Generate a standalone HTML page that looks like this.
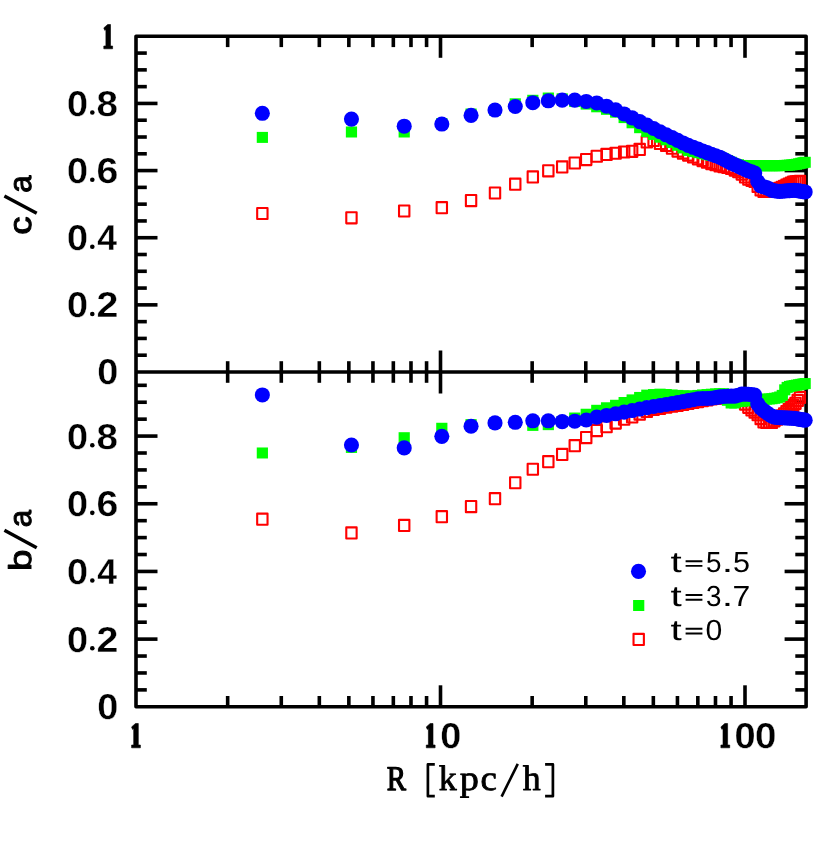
<!DOCTYPE html>
<html lang="en">
<head>
<meta charset="utf-8">
<title>c/a and b/a versus R</title>
<style>
html,body{margin:0;padding:0;background:#fff;}
body{width:830px;height:841px;overflow:hidden;font-family:"Liberation Sans",sans-serif;}
svg{display:block;will-change:transform;}
svg text{text-rendering:geometricPrecision;}
</style>
</head>
<body>
<svg width="830" height="841" viewBox="0 0 830 841">
<rect width="830" height="841" fill="#fff"/>
<g stroke="#000" stroke-width="3.6" fill="none" stroke-linecap="butt">
<rect x="136.0" y="36.3" width="670.1" height="670.5" stroke-linejoin="round"/>
<line x1="136.0" y1="372.0" x2="806.1" y2="372.0"/>
</g>
<g stroke="#000" stroke-width="3.6" stroke-linecap="butt">
<line x1="227.66" y1="36.3" x2="227.66" y2="47.099999999999994"/>
<line x1="227.66" y1="361.2" x2="227.66" y2="382.8"/>
<line x1="227.66" y1="696.0" x2="227.66" y2="706.8"/>
<line x1="281.28" y1="36.3" x2="281.28" y2="47.099999999999994"/>
<line x1="281.28" y1="361.2" x2="281.28" y2="382.8"/>
<line x1="281.28" y1="696.0" x2="281.28" y2="706.8"/>
<line x1="319.33" y1="36.3" x2="319.33" y2="47.099999999999994"/>
<line x1="319.33" y1="361.2" x2="319.33" y2="382.8"/>
<line x1="319.33" y1="696.0" x2="319.33" y2="706.8"/>
<line x1="348.84" y1="36.3" x2="348.84" y2="47.099999999999994"/>
<line x1="348.84" y1="361.2" x2="348.84" y2="382.8"/>
<line x1="348.84" y1="696.0" x2="348.84" y2="706.8"/>
<line x1="372.95" y1="36.3" x2="372.95" y2="47.099999999999994"/>
<line x1="372.95" y1="361.2" x2="372.95" y2="382.8"/>
<line x1="372.95" y1="696.0" x2="372.95" y2="706.8"/>
<line x1="393.33" y1="36.3" x2="393.33" y2="47.099999999999994"/>
<line x1="393.33" y1="361.2" x2="393.33" y2="382.8"/>
<line x1="393.33" y1="696.0" x2="393.33" y2="706.8"/>
<line x1="410.99" y1="36.3" x2="410.99" y2="47.099999999999994"/>
<line x1="410.99" y1="361.2" x2="410.99" y2="382.8"/>
<line x1="410.99" y1="696.0" x2="410.99" y2="706.8"/>
<line x1="426.57" y1="36.3" x2="426.57" y2="47.099999999999994"/>
<line x1="426.57" y1="361.2" x2="426.57" y2="382.8"/>
<line x1="426.57" y1="696.0" x2="426.57" y2="706.8"/>
<line x1="440.50" y1="36.3" x2="440.50" y2="57.8"/>
<line x1="440.50" y1="350.5" x2="440.50" y2="393.5"/>
<line x1="440.50" y1="685.3" x2="440.50" y2="706.8"/>
<line x1="532.16" y1="36.3" x2="532.16" y2="47.099999999999994"/>
<line x1="532.16" y1="361.2" x2="532.16" y2="382.8"/>
<line x1="532.16" y1="696.0" x2="532.16" y2="706.8"/>
<line x1="585.78" y1="36.3" x2="585.78" y2="47.099999999999994"/>
<line x1="585.78" y1="361.2" x2="585.78" y2="382.8"/>
<line x1="585.78" y1="696.0" x2="585.78" y2="706.8"/>
<line x1="623.83" y1="36.3" x2="623.83" y2="47.099999999999994"/>
<line x1="623.83" y1="361.2" x2="623.83" y2="382.8"/>
<line x1="623.83" y1="696.0" x2="623.83" y2="706.8"/>
<line x1="653.34" y1="36.3" x2="653.34" y2="47.099999999999994"/>
<line x1="653.34" y1="361.2" x2="653.34" y2="382.8"/>
<line x1="653.34" y1="696.0" x2="653.34" y2="706.8"/>
<line x1="677.45" y1="36.3" x2="677.45" y2="47.099999999999994"/>
<line x1="677.45" y1="361.2" x2="677.45" y2="382.8"/>
<line x1="677.45" y1="696.0" x2="677.45" y2="706.8"/>
<line x1="697.83" y1="36.3" x2="697.83" y2="47.099999999999994"/>
<line x1="697.83" y1="361.2" x2="697.83" y2="382.8"/>
<line x1="697.83" y1="696.0" x2="697.83" y2="706.8"/>
<line x1="715.49" y1="36.3" x2="715.49" y2="47.099999999999994"/>
<line x1="715.49" y1="361.2" x2="715.49" y2="382.8"/>
<line x1="715.49" y1="696.0" x2="715.49" y2="706.8"/>
<line x1="731.07" y1="36.3" x2="731.07" y2="47.099999999999994"/>
<line x1="731.07" y1="361.2" x2="731.07" y2="382.8"/>
<line x1="731.07" y1="696.0" x2="731.07" y2="706.8"/>
<line x1="745.00" y1="36.3" x2="745.00" y2="57.8"/>
<line x1="745.00" y1="350.5" x2="745.00" y2="393.5"/>
<line x1="745.00" y1="685.3" x2="745.00" y2="706.8"/>
<line x1="136.0" y1="355.21" x2="146.8" y2="355.21"/>
<line x1="795.3000000000001" y1="355.21" x2="806.1" y2="355.21"/>
<line x1="136.0" y1="338.43" x2="146.8" y2="338.43"/>
<line x1="795.3000000000001" y1="338.43" x2="806.1" y2="338.43"/>
<line x1="136.0" y1="321.64" x2="146.8" y2="321.64"/>
<line x1="795.3000000000001" y1="321.64" x2="806.1" y2="321.64"/>
<line x1="136.0" y1="304.86" x2="157.5" y2="304.86"/>
<line x1="784.6" y1="304.86" x2="806.1" y2="304.86"/>
<line x1="136.0" y1="288.07" x2="146.8" y2="288.07"/>
<line x1="795.3000000000001" y1="288.07" x2="806.1" y2="288.07"/>
<line x1="136.0" y1="271.29" x2="146.8" y2="271.29"/>
<line x1="795.3000000000001" y1="271.29" x2="806.1" y2="271.29"/>
<line x1="136.0" y1="254.50" x2="146.8" y2="254.50"/>
<line x1="795.3000000000001" y1="254.50" x2="806.1" y2="254.50"/>
<line x1="136.0" y1="237.72" x2="157.5" y2="237.72"/>
<line x1="784.6" y1="237.72" x2="806.1" y2="237.72"/>
<line x1="136.0" y1="220.94" x2="146.8" y2="220.94"/>
<line x1="795.3000000000001" y1="220.94" x2="806.1" y2="220.94"/>
<line x1="136.0" y1="204.15" x2="146.8" y2="204.15"/>
<line x1="795.3000000000001" y1="204.15" x2="806.1" y2="204.15"/>
<line x1="136.0" y1="187.37" x2="146.8" y2="187.37"/>
<line x1="795.3000000000001" y1="187.37" x2="806.1" y2="187.37"/>
<line x1="136.0" y1="170.58" x2="157.5" y2="170.58"/>
<line x1="784.6" y1="170.58" x2="806.1" y2="170.58"/>
<line x1="136.0" y1="153.79" x2="146.8" y2="153.79"/>
<line x1="795.3000000000001" y1="153.79" x2="806.1" y2="153.79"/>
<line x1="136.0" y1="137.01" x2="146.8" y2="137.01"/>
<line x1="795.3000000000001" y1="137.01" x2="806.1" y2="137.01"/>
<line x1="136.0" y1="120.22" x2="146.8" y2="120.22"/>
<line x1="795.3000000000001" y1="120.22" x2="806.1" y2="120.22"/>
<line x1="136.0" y1="103.44" x2="157.5" y2="103.44"/>
<line x1="784.6" y1="103.44" x2="806.1" y2="103.44"/>
<line x1="136.0" y1="86.65" x2="146.8" y2="86.65"/>
<line x1="795.3000000000001" y1="86.65" x2="806.1" y2="86.65"/>
<line x1="136.0" y1="69.87" x2="146.8" y2="69.87"/>
<line x1="795.3000000000001" y1="69.87" x2="806.1" y2="69.87"/>
<line x1="136.0" y1="53.08" x2="146.8" y2="53.08"/>
<line x1="795.3000000000001" y1="53.08" x2="806.1" y2="53.08"/>
<line x1="136.0" y1="689.88" x2="146.8" y2="689.88"/>
<line x1="795.3000000000001" y1="689.88" x2="806.1" y2="689.88"/>
<line x1="136.0" y1="672.96" x2="146.8" y2="672.96"/>
<line x1="795.3000000000001" y1="672.96" x2="806.1" y2="672.96"/>
<line x1="136.0" y1="656.04" x2="146.8" y2="656.04"/>
<line x1="795.3000000000001" y1="656.04" x2="806.1" y2="656.04"/>
<line x1="136.0" y1="639.12" x2="157.5" y2="639.12"/>
<line x1="784.6" y1="639.12" x2="806.1" y2="639.12"/>
<line x1="136.0" y1="622.20" x2="146.8" y2="622.20"/>
<line x1="795.3000000000001" y1="622.20" x2="806.1" y2="622.20"/>
<line x1="136.0" y1="605.28" x2="146.8" y2="605.28"/>
<line x1="795.3000000000001" y1="605.28" x2="806.1" y2="605.28"/>
<line x1="136.0" y1="588.36" x2="146.8" y2="588.36"/>
<line x1="795.3000000000001" y1="588.36" x2="806.1" y2="588.36"/>
<line x1="136.0" y1="571.44" x2="157.5" y2="571.44"/>
<line x1="784.6" y1="571.44" x2="806.1" y2="571.44"/>
<line x1="136.0" y1="554.52" x2="146.8" y2="554.52"/>
<line x1="795.3000000000001" y1="554.52" x2="806.1" y2="554.52"/>
<line x1="136.0" y1="537.60" x2="146.8" y2="537.60"/>
<line x1="795.3000000000001" y1="537.60" x2="806.1" y2="537.60"/>
<line x1="136.0" y1="520.68" x2="146.8" y2="520.68"/>
<line x1="795.3000000000001" y1="520.68" x2="806.1" y2="520.68"/>
<line x1="136.0" y1="503.76" x2="157.5" y2="503.76"/>
<line x1="784.6" y1="503.76" x2="806.1" y2="503.76"/>
<line x1="136.0" y1="486.84" x2="146.8" y2="486.84"/>
<line x1="795.3000000000001" y1="486.84" x2="806.1" y2="486.84"/>
<line x1="136.0" y1="469.92" x2="146.8" y2="469.92"/>
<line x1="795.3000000000001" y1="469.92" x2="806.1" y2="469.92"/>
<line x1="136.0" y1="453.00" x2="146.8" y2="453.00"/>
<line x1="795.3000000000001" y1="453.00" x2="806.1" y2="453.00"/>
<line x1="136.0" y1="436.08" x2="157.5" y2="436.08"/>
<line x1="784.6" y1="436.08" x2="806.1" y2="436.08"/>
<line x1="136.0" y1="419.16" x2="146.8" y2="419.16"/>
<line x1="795.3000000000001" y1="419.16" x2="806.1" y2="419.16"/>
<line x1="136.0" y1="402.24" x2="146.8" y2="402.24"/>
<line x1="795.3000000000001" y1="402.24" x2="806.1" y2="402.24"/>
<line x1="136.0" y1="385.32" x2="146.8" y2="385.32"/>
<line x1="795.3000000000001" y1="385.32" x2="806.1" y2="385.32"/>
</g>
<g>
<rect x="257.18" y="207.95" width="10.35" height="11.1" fill="none" stroke="#f00" stroke-width="2.1" stroke-linejoin="round"/>
<rect x="346.28" y="212.23" width="10.35" height="11.1" fill="none" stroke="#f00" stroke-width="2.1" stroke-linejoin="round"/>
<rect x="399.03" y="205.45" width="10.35" height="11.1" fill="none" stroke="#f00" stroke-width="2.1" stroke-linejoin="round"/>
<rect x="436.64" y="202.10" width="10.35" height="11.1" fill="none" stroke="#f00" stroke-width="2.1" stroke-linejoin="round"/>
<rect x="465.89" y="195.06" width="10.35" height="11.1" fill="none" stroke="#f00" stroke-width="2.1" stroke-linejoin="round"/>
<rect x="489.82" y="187.46" width="10.35" height="11.1" fill="none" stroke="#f00" stroke-width="2.1" stroke-linejoin="round"/>
<rect x="510.08" y="178.63" width="10.35" height="11.1" fill="none" stroke="#f00" stroke-width="2.1" stroke-linejoin="round"/>
<rect x="527.65" y="171.40" width="10.35" height="11.1" fill="none" stroke="#f00" stroke-width="2.1" stroke-linejoin="round"/>
<rect x="543.15" y="165.29" width="10.35" height="11.1" fill="none" stroke="#f00" stroke-width="2.1" stroke-linejoin="round"/>
<rect x="557.03" y="161.35" width="10.35" height="11.1" fill="none" stroke="#f00" stroke-width="2.1" stroke-linejoin="round"/>
<rect x="569.58" y="157.47" width="10.35" height="11.1" fill="none" stroke="#f00" stroke-width="2.1" stroke-linejoin="round"/>
<rect x="581.05" y="154.01" width="10.35" height="11.1" fill="none" stroke="#f00" stroke-width="2.1" stroke-linejoin="round"/>
<rect x="591.60" y="150.70" width="10.35" height="11.1" fill="none" stroke="#f00" stroke-width="2.1" stroke-linejoin="round"/>
<rect x="601.37" y="148.91" width="10.35" height="11.1" fill="none" stroke="#f00" stroke-width="2.1" stroke-linejoin="round"/>
<rect x="610.47" y="147.70" width="10.35" height="11.1" fill="none" stroke="#f00" stroke-width="2.1" stroke-linejoin="round"/>
<rect x="618.98" y="146.44" width="10.35" height="11.1" fill="none" stroke="#f00" stroke-width="2.1" stroke-linejoin="round"/>
<rect x="626.98" y="145.74" width="10.35" height="11.1" fill="none" stroke="#f00" stroke-width="2.1" stroke-linejoin="round"/>
<rect x="634.52" y="143.85" width="10.35" height="11.1" fill="none" stroke="#f00" stroke-width="2.1" stroke-linejoin="round"/>
<rect x="641.66" y="136.34" width="10.35" height="11.1" fill="none" stroke="#f00" stroke-width="2.1" stroke-linejoin="round"/>
<rect x="648.43" y="134.85" width="10.35" height="11.1" fill="none" stroke="#f00" stroke-width="2.1" stroke-linejoin="round"/>
<rect x="654.87" y="137.86" width="10.35" height="11.1" fill="none" stroke="#f00" stroke-width="2.1" stroke-linejoin="round"/>
<rect x="661.01" y="139.94" width="10.35" height="11.1" fill="none" stroke="#f00" stroke-width="2.1" stroke-linejoin="round"/>
<rect x="666.87" y="142.58" width="10.35" height="11.1" fill="none" stroke="#f00" stroke-width="2.1" stroke-linejoin="round"/>
<rect x="672.49" y="145.48" width="10.35" height="11.1" fill="none" stroke="#f00" stroke-width="2.1" stroke-linejoin="round"/>
<rect x="677.88" y="147.53" width="10.35" height="11.1" fill="none" stroke="#f00" stroke-width="2.1" stroke-linejoin="round"/>
<rect x="683.06" y="149.51" width="10.35" height="11.1" fill="none" stroke="#f00" stroke-width="2.1" stroke-linejoin="round"/>
<rect x="688.04" y="151.41" width="10.35" height="11.1" fill="none" stroke="#f00" stroke-width="2.1" stroke-linejoin="round"/>
<rect x="692.85" y="153.24" width="10.35" height="11.1" fill="none" stroke="#f00" stroke-width="2.1" stroke-linejoin="round"/>
<rect x="697.48" y="155.01" width="10.35" height="11.1" fill="none" stroke="#f00" stroke-width="2.1" stroke-linejoin="round"/>
<rect x="701.96" y="156.72" width="10.35" height="11.1" fill="none" stroke="#f00" stroke-width="2.1" stroke-linejoin="round"/>
<rect x="706.29" y="158.03" width="10.35" height="11.1" fill="none" stroke="#f00" stroke-width="2.1" stroke-linejoin="round"/>
<rect x="710.48" y="159.21" width="10.35" height="11.1" fill="none" stroke="#f00" stroke-width="2.1" stroke-linejoin="round"/>
<rect x="714.55" y="160.29" width="10.35" height="11.1" fill="none" stroke="#f00" stroke-width="2.1" stroke-linejoin="round"/>
<rect x="718.49" y="161.08" width="10.35" height="11.1" fill="none" stroke="#f00" stroke-width="2.1" stroke-linejoin="round"/>
<rect x="722.32" y="161.85" width="10.35" height="11.1" fill="none" stroke="#f00" stroke-width="2.1" stroke-linejoin="round"/>
<rect x="726.04" y="162.88" width="10.35" height="11.1" fill="none" stroke="#f00" stroke-width="2.1" stroke-linejoin="round"/>
<rect x="729.66" y="164.48" width="10.35" height="11.1" fill="none" stroke="#f00" stroke-width="2.1" stroke-linejoin="round"/>
<rect x="733.18" y="166.16" width="10.35" height="11.1" fill="none" stroke="#f00" stroke-width="2.1" stroke-linejoin="round"/>
<rect x="736.61" y="168.51" width="10.35" height="11.1" fill="none" stroke="#f00" stroke-width="2.1" stroke-linejoin="round"/>
<rect x="739.96" y="171.42" width="10.35" height="11.1" fill="none" stroke="#f00" stroke-width="2.1" stroke-linejoin="round"/>
<rect x="743.22" y="173.58" width="10.35" height="11.1" fill="none" stroke="#f00" stroke-width="2.1" stroke-linejoin="round"/>
<rect x="746.40" y="174.77" width="10.35" height="11.1" fill="none" stroke="#f00" stroke-width="2.1" stroke-linejoin="round"/>
<rect x="749.51" y="175.95" width="10.35" height="11.1" fill="none" stroke="#f00" stroke-width="2.1" stroke-linejoin="round"/>
<rect x="752.55" y="180.78" width="10.35" height="11.1" fill="none" stroke="#f00" stroke-width="2.1" stroke-linejoin="round"/>
<rect x="755.52" y="184.34" width="10.35" height="11.1" fill="none" stroke="#f00" stroke-width="2.1" stroke-linejoin="round"/>
<rect x="758.42" y="185.95" width="10.35" height="11.1" fill="none" stroke="#f00" stroke-width="2.1" stroke-linejoin="round"/>
<rect x="761.26" y="185.95" width="10.35" height="11.1" fill="none" stroke="#f00" stroke-width="2.1" stroke-linejoin="round"/>
<rect x="764.05" y="185.95" width="10.35" height="11.1" fill="none" stroke="#f00" stroke-width="2.1" stroke-linejoin="round"/>
<rect x="766.69" y="185.95" width="10.35" height="11.1" fill="none" stroke="#f00" stroke-width="2.1" stroke-linejoin="round"/>
<rect x="769.26" y="184.90" width="10.35" height="11.1" fill="none" stroke="#f00" stroke-width="2.1" stroke-linejoin="round"/>
<rect x="771.77" y="183.86" width="10.35" height="11.1" fill="none" stroke="#f00" stroke-width="2.1" stroke-linejoin="round"/>
<rect x="774.23" y="182.83" width="10.35" height="11.1" fill="none" stroke="#f00" stroke-width="2.1" stroke-linejoin="round"/>
<rect x="776.65" y="181.77" width="10.35" height="11.1" fill="none" stroke="#f00" stroke-width="2.1" stroke-linejoin="round"/>
<rect x="779.02" y="180.70" width="10.35" height="11.1" fill="none" stroke="#f00" stroke-width="2.1" stroke-linejoin="round"/>
<rect x="781.35" y="179.65" width="10.35" height="11.1" fill="none" stroke="#f00" stroke-width="2.1" stroke-linejoin="round"/>
<rect x="783.63" y="178.53" width="10.35" height="11.1" fill="none" stroke="#f00" stroke-width="2.1" stroke-linejoin="round"/>
<rect x="785.88" y="177.43" width="10.35" height="11.1" fill="none" stroke="#f00" stroke-width="2.1" stroke-linejoin="round"/>
<rect x="788.08" y="176.43" width="10.35" height="11.1" fill="none" stroke="#f00" stroke-width="2.1" stroke-linejoin="round"/>
<rect x="790.31" y="176.20" width="10.35" height="11.1" fill="none" stroke="#f00" stroke-width="2.1" stroke-linejoin="round"/>
<rect x="792.53" y="175.98" width="10.35" height="11.1" fill="none" stroke="#f00" stroke-width="2.1" stroke-linejoin="round"/>
<rect x="794.72" y="175.76" width="10.35" height="11.1" fill="none" stroke="#f00" stroke-width="2.1" stroke-linejoin="round"/>
<rect x="256.76" y="131.90" width="11.2" height="11.0" fill="#0f0"/>
<rect x="345.86" y="126.50" width="11.2" height="11.0" fill="#0f0"/>
<rect x="398.61" y="126.50" width="11.2" height="11.0" fill="#0f0"/>
<rect x="436.22" y="118.03" width="11.2" height="11.0" fill="#0f0"/>
<rect x="465.46" y="108.51" width="11.2" height="11.0" fill="#0f0"/>
<rect x="489.40" y="104.93" width="11.2" height="11.0" fill="#0f0"/>
<rect x="509.66" y="98.29" width="11.2" height="11.0" fill="#0f0"/>
<rect x="527.22" y="94.78" width="11.2" height="11.0" fill="#0f0"/>
<rect x="542.73" y="92.51" width="11.2" height="11.0" fill="#0f0"/>
<rect x="556.60" y="93.30" width="11.2" height="11.0" fill="#0f0"/>
<rect x="569.16" y="96.06" width="11.2" height="11.0" fill="#0f0"/>
<rect x="580.62" y="98.61" width="11.2" height="11.0" fill="#0f0"/>
<rect x="591.17" y="101.30" width="11.2" height="11.0" fill="#0f0"/>
<rect x="600.95" y="103.83" width="11.2" height="11.0" fill="#0f0"/>
<rect x="610.04" y="106.69" width="11.2" height="11.0" fill="#0f0"/>
<rect x="618.56" y="112.10" width="11.2" height="11.0" fill="#0f0"/>
<rect x="626.56" y="117.29" width="11.2" height="11.0" fill="#0f0"/>
<rect x="634.10" y="122.19" width="11.2" height="11.0" fill="#0f0"/>
<rect x="641.23" y="126.06" width="11.2" height="11.0" fill="#0f0"/>
<rect x="648.00" y="128.94" width="11.2" height="11.0" fill="#0f0"/>
<rect x="654.44" y="131.69" width="11.2" height="11.0" fill="#0f0"/>
<rect x="660.58" y="134.30" width="11.2" height="11.0" fill="#0f0"/>
<rect x="666.45" y="137.01" width="11.2" height="11.0" fill="#0f0"/>
<rect x="672.07" y="139.79" width="11.2" height="11.0" fill="#0f0"/>
<rect x="677.46" y="142.45" width="11.2" height="11.0" fill="#0f0"/>
<rect x="682.64" y="144.95" width="11.2" height="11.0" fill="#0f0"/>
<rect x="687.62" y="146.07" width="11.2" height="11.0" fill="#0f0"/>
<rect x="692.42" y="147.15" width="11.2" height="11.0" fill="#0f0"/>
<rect x="697.06" y="148.20" width="11.2" height="11.0" fill="#0f0"/>
<rect x="701.53" y="149.20" width="11.2" height="11.0" fill="#0f0"/>
<rect x="705.86" y="150.01" width="11.2" height="11.0" fill="#0f0"/>
<rect x="710.06" y="150.74" width="11.2" height="11.0" fill="#0f0"/>
<rect x="714.12" y="151.45" width="11.2" height="11.0" fill="#0f0"/>
<rect x="718.06" y="153.21" width="11.2" height="11.0" fill="#0f0"/>
<rect x="721.89" y="155.00" width="11.2" height="11.0" fill="#0f0"/>
<rect x="725.61" y="156.73" width="11.2" height="11.0" fill="#0f0"/>
<rect x="729.23" y="158.42" width="11.2" height="11.0" fill="#0f0"/>
<rect x="732.76" y="159.21" width="11.2" height="11.0" fill="#0f0"/>
<rect x="736.19" y="159.94" width="11.2" height="11.0" fill="#0f0"/>
<rect x="739.53" y="160.20" width="11.2" height="11.0" fill="#0f0"/>
<rect x="742.79" y="160.20" width="11.2" height="11.0" fill="#0f0"/>
<rect x="745.98" y="160.20" width="11.2" height="11.0" fill="#0f0"/>
<rect x="749.09" y="160.20" width="11.2" height="11.0" fill="#0f0"/>
<rect x="752.12" y="160.20" width="11.2" height="11.0" fill="#0f0"/>
<rect x="755.09" y="160.20" width="11.2" height="11.0" fill="#0f0"/>
<rect x="758.00" y="160.20" width="11.2" height="11.0" fill="#0f0"/>
<rect x="760.84" y="160.20" width="11.2" height="11.0" fill="#0f0"/>
<rect x="763.62" y="160.20" width="11.2" height="11.0" fill="#0f0"/>
<rect x="766.35" y="160.20" width="11.2" height="11.0" fill="#0f0"/>
<rect x="769.01" y="160.20" width="11.2" height="11.0" fill="#0f0"/>
<rect x="771.63" y="160.20" width="11.2" height="11.0" fill="#0f0"/>
<rect x="774.20" y="160.20" width="11.2" height="11.0" fill="#0f0"/>
<rect x="776.71" y="160.06" width="11.2" height="11.0" fill="#0f0"/>
<rect x="779.18" y="159.91" width="11.2" height="11.0" fill="#0f0"/>
<rect x="781.61" y="159.77" width="11.2" height="11.0" fill="#0f0"/>
<rect x="783.99" y="159.62" width="11.2" height="11.0" fill="#0f0"/>
<rect x="786.33" y="159.35" width="11.2" height="11.0" fill="#0f0"/>
<rect x="788.63" y="159.06" width="11.2" height="11.0" fill="#0f0"/>
<rect x="790.89" y="158.77" width="11.2" height="11.0" fill="#0f0"/>
<rect x="793.11" y="158.27" width="11.2" height="11.0" fill="#0f0"/>
<rect x="795.29" y="157.73" width="11.2" height="11.0" fill="#0f0"/>
<rect x="797.44" y="157.25" width="11.2" height="11.0" fill="#0f0"/>
<rect x="799.56" y="156.78" width="11.2" height="11.0" fill="#0f0"/>
<circle cx="262.36" cy="113.30" r="7.55" fill="#00f"/>
<circle cx="351.46" cy="119.12" r="7.55" fill="#00f"/>
<circle cx="404.21" cy="126.20" r="7.55" fill="#00f"/>
<circle cx="441.82" cy="124.04" r="7.55" fill="#00f"/>
<circle cx="471.06" cy="115.41" r="7.55" fill="#00f"/>
<circle cx="495.00" cy="110.06" r="7.55" fill="#00f"/>
<circle cx="515.26" cy="106.49" r="7.55" fill="#00f"/>
<circle cx="532.82" cy="102.68" r="7.55" fill="#00f"/>
<circle cx="548.33" cy="100.79" r="7.55" fill="#00f"/>
<circle cx="562.20" cy="100.10" r="7.55" fill="#00f"/>
<circle cx="574.76" cy="100.13" r="7.55" fill="#00f"/>
<circle cx="586.22" cy="101.45" r="7.55" fill="#00f"/>
<circle cx="596.77" cy="102.95" r="7.55" fill="#00f"/>
<circle cx="606.55" cy="106.21" r="7.55" fill="#00f"/>
<circle cx="615.64" cy="109.76" r="7.55" fill="#00f"/>
<circle cx="624.16" cy="113.93" r="7.55" fill="#00f"/>
<circle cx="632.16" cy="117.88" r="7.55" fill="#00f"/>
<circle cx="639.70" cy="121.61" r="7.55" fill="#00f"/>
<circle cx="646.83" cy="125.13" r="7.55" fill="#00f"/>
<circle cx="653.60" cy="128.50" r="7.55" fill="#00f"/>
<circle cx="660.04" cy="131.72" r="7.55" fill="#00f"/>
<circle cx="666.18" cy="134.79" r="7.55" fill="#00f"/>
<circle cx="672.05" cy="137.66" r="7.55" fill="#00f"/>
<circle cx="677.67" cy="140.35" r="7.55" fill="#00f"/>
<circle cx="683.06" cy="142.93" r="7.55" fill="#00f"/>
<circle cx="688.24" cy="145.39" r="7.55" fill="#00f"/>
<circle cx="693.22" cy="147.31" r="7.55" fill="#00f"/>
<circle cx="698.02" cy="149.16" r="7.55" fill="#00f"/>
<circle cx="702.66" cy="150.94" r="7.55" fill="#00f"/>
<circle cx="707.13" cy="152.67" r="7.55" fill="#00f"/>
<circle cx="711.46" cy="154.24" r="7.55" fill="#00f"/>
<circle cx="715.66" cy="155.74" r="7.55" fill="#00f"/>
<circle cx="719.72" cy="157.20" r="7.55" fill="#00f"/>
<circle cx="723.66" cy="159.21" r="7.55" fill="#00f"/>
<circle cx="727.49" cy="161.20" r="7.55" fill="#00f"/>
<circle cx="731.21" cy="163.05" r="7.55" fill="#00f"/>
<circle cx="734.83" cy="164.68" r="7.55" fill="#00f"/>
<circle cx="738.36" cy="166.27" r="7.55" fill="#00f"/>
<circle cx="741.79" cy="167.82" r="7.55" fill="#00f"/>
<circle cx="745.13" cy="169.33" r="7.55" fill="#00f"/>
<circle cx="748.39" cy="170.80" r="7.55" fill="#00f"/>
<circle cx="751.58" cy="171.79" r="7.55" fill="#00f"/>
<circle cx="754.69" cy="172.99" r="7.55" fill="#00f"/>
<circle cx="757.72" cy="181.53" r="7.55" fill="#00f"/>
<circle cx="760.69" cy="185.79" r="7.55" fill="#00f"/>
<circle cx="763.60" cy="186.80" r="7.55" fill="#00f"/>
<circle cx="766.44" cy="187.62" r="7.55" fill="#00f"/>
<circle cx="769.22" cy="188.81" r="7.55" fill="#00f"/>
<circle cx="771.95" cy="190.31" r="7.55" fill="#00f"/>
<circle cx="774.61" cy="190.80" r="7.55" fill="#00f"/>
<circle cx="777.23" cy="191.28" r="7.55" fill="#00f"/>
<circle cx="779.80" cy="191.39" r="7.55" fill="#00f"/>
<circle cx="782.31" cy="191.19" r="7.55" fill="#00f"/>
<circle cx="784.78" cy="191.00" r="7.55" fill="#00f"/>
<circle cx="787.21" cy="190.81" r="7.55" fill="#00f"/>
<circle cx="789.59" cy="190.62" r="7.55" fill="#00f"/>
<circle cx="791.93" cy="190.44" r="7.55" fill="#00f"/>
<circle cx="794.23" cy="190.26" r="7.55" fill="#00f"/>
<circle cx="796.49" cy="190.45" r="7.55" fill="#00f"/>
<circle cx="798.71" cy="190.84" r="7.55" fill="#00f"/>
<circle cx="800.89" cy="191.21" r="7.55" fill="#00f"/>
<circle cx="803.04" cy="191.58" r="7.55" fill="#00f"/>
<circle cx="805.16" cy="191.94" r="7.55" fill="#00f"/>
</g>
<g>
<rect x="257.18" y="513.59" width="10.35" height="11.1" fill="none" stroke="#f00" stroke-width="2.1" stroke-linejoin="round"/>
<rect x="346.28" y="527.40" width="10.35" height="11.1" fill="none" stroke="#f00" stroke-width="2.1" stroke-linejoin="round"/>
<rect x="399.03" y="519.85" width="10.35" height="11.1" fill="none" stroke="#f00" stroke-width="2.1" stroke-linejoin="round"/>
<rect x="436.64" y="511.08" width="10.35" height="11.1" fill="none" stroke="#f00" stroke-width="2.1" stroke-linejoin="round"/>
<rect x="465.89" y="501.06" width="10.35" height="11.1" fill="none" stroke="#f00" stroke-width="2.1" stroke-linejoin="round"/>
<rect x="489.82" y="493.09" width="10.35" height="11.1" fill="none" stroke="#f00" stroke-width="2.1" stroke-linejoin="round"/>
<rect x="510.08" y="477.20" width="10.35" height="11.1" fill="none" stroke="#f00" stroke-width="2.1" stroke-linejoin="round"/>
<rect x="527.65" y="463.69" width="10.35" height="11.1" fill="none" stroke="#f00" stroke-width="2.1" stroke-linejoin="round"/>
<rect x="543.15" y="456.13" width="10.35" height="11.1" fill="none" stroke="#f00" stroke-width="2.1" stroke-linejoin="round"/>
<rect x="557.03" y="448.85" width="10.35" height="11.1" fill="none" stroke="#f00" stroke-width="2.1" stroke-linejoin="round"/>
<rect x="569.58" y="440.17" width="10.35" height="11.1" fill="none" stroke="#f00" stroke-width="2.1" stroke-linejoin="round"/>
<rect x="581.05" y="432.06" width="10.35" height="11.1" fill="none" stroke="#f00" stroke-width="2.1" stroke-linejoin="round"/>
<rect x="591.60" y="425.04" width="10.35" height="11.1" fill="none" stroke="#f00" stroke-width="2.1" stroke-linejoin="round"/>
<rect x="601.37" y="421.13" width="10.35" height="11.1" fill="none" stroke="#f00" stroke-width="2.1" stroke-linejoin="round"/>
<rect x="610.47" y="417.49" width="10.35" height="11.1" fill="none" stroke="#f00" stroke-width="2.1" stroke-linejoin="round"/>
<rect x="618.98" y="413.63" width="10.35" height="11.1" fill="none" stroke="#f00" stroke-width="2.1" stroke-linejoin="round"/>
<rect x="626.98" y="411.43" width="10.35" height="11.1" fill="none" stroke="#f00" stroke-width="2.1" stroke-linejoin="round"/>
<rect x="634.52" y="408.55" width="10.35" height="11.1" fill="none" stroke="#f00" stroke-width="2.1" stroke-linejoin="round"/>
<rect x="641.66" y="405.84" width="10.35" height="11.1" fill="none" stroke="#f00" stroke-width="2.1" stroke-linejoin="round"/>
<rect x="648.43" y="403.85" width="10.35" height="11.1" fill="none" stroke="#f00" stroke-width="2.1" stroke-linejoin="round"/>
<rect x="654.87" y="402.75" width="10.35" height="11.1" fill="none" stroke="#f00" stroke-width="2.1" stroke-linejoin="round"/>
<rect x="661.01" y="401.71" width="10.35" height="11.1" fill="none" stroke="#f00" stroke-width="2.1" stroke-linejoin="round"/>
<rect x="666.87" y="400.71" width="10.35" height="11.1" fill="none" stroke="#f00" stroke-width="2.1" stroke-linejoin="round"/>
<rect x="672.49" y="399.75" width="10.35" height="11.1" fill="none" stroke="#f00" stroke-width="2.1" stroke-linejoin="round"/>
<rect x="677.88" y="398.80" width="10.35" height="11.1" fill="none" stroke="#f00" stroke-width="2.1" stroke-linejoin="round"/>
<rect x="683.06" y="397.84" width="10.35" height="11.1" fill="none" stroke="#f00" stroke-width="2.1" stroke-linejoin="round"/>
<rect x="688.04" y="396.91" width="10.35" height="11.1" fill="none" stroke="#f00" stroke-width="2.1" stroke-linejoin="round"/>
<rect x="692.85" y="396.01" width="10.35" height="11.1" fill="none" stroke="#f00" stroke-width="2.1" stroke-linejoin="round"/>
<rect x="697.48" y="395.15" width="10.35" height="11.1" fill="none" stroke="#f00" stroke-width="2.1" stroke-linejoin="round"/>
<rect x="701.96" y="394.29" width="10.35" height="11.1" fill="none" stroke="#f00" stroke-width="2.1" stroke-linejoin="round"/>
<rect x="706.29" y="393.44" width="10.35" height="11.1" fill="none" stroke="#f00" stroke-width="2.1" stroke-linejoin="round"/>
<rect x="710.48" y="392.70" width="10.35" height="11.1" fill="none" stroke="#f00" stroke-width="2.1" stroke-linejoin="round"/>
<rect x="714.55" y="392.42" width="10.35" height="11.1" fill="none" stroke="#f00" stroke-width="2.1" stroke-linejoin="round"/>
<rect x="718.49" y="392.14" width="10.35" height="11.1" fill="none" stroke="#f00" stroke-width="2.1" stroke-linejoin="round"/>
<rect x="722.32" y="392.24" width="10.35" height="11.1" fill="none" stroke="#f00" stroke-width="2.1" stroke-linejoin="round"/>
<rect x="726.04" y="392.52" width="10.35" height="11.1" fill="none" stroke="#f00" stroke-width="2.1" stroke-linejoin="round"/>
<rect x="729.66" y="392.79" width="10.35" height="11.1" fill="none" stroke="#f00" stroke-width="2.1" stroke-linejoin="round"/>
<rect x="733.18" y="393.08" width="10.35" height="11.1" fill="none" stroke="#f00" stroke-width="2.1" stroke-linejoin="round"/>
<rect x="736.61" y="395.04" width="10.35" height="11.1" fill="none" stroke="#f00" stroke-width="2.1" stroke-linejoin="round"/>
<rect x="739.96" y="398.48" width="10.35" height="11.1" fill="none" stroke="#f00" stroke-width="2.1" stroke-linejoin="round"/>
<rect x="743.22" y="401.74" width="10.35" height="11.1" fill="none" stroke="#f00" stroke-width="2.1" stroke-linejoin="round"/>
<rect x="746.40" y="404.43" width="10.35" height="11.1" fill="none" stroke="#f00" stroke-width="2.1" stroke-linejoin="round"/>
<rect x="749.51" y="406.54" width="10.35" height="11.1" fill="none" stroke="#f00" stroke-width="2.1" stroke-linejoin="round"/>
<rect x="752.55" y="409.08" width="10.35" height="11.1" fill="none" stroke="#f00" stroke-width="2.1" stroke-linejoin="round"/>
<rect x="755.52" y="413.04" width="10.35" height="11.1" fill="none" stroke="#f00" stroke-width="2.1" stroke-linejoin="round"/>
<rect x="758.42" y="416.35" width="10.35" height="11.1" fill="none" stroke="#f00" stroke-width="2.1" stroke-linejoin="round"/>
<rect x="761.26" y="416.95" width="10.35" height="11.1" fill="none" stroke="#f00" stroke-width="2.1" stroke-linejoin="round"/>
<rect x="764.05" y="416.95" width="10.35" height="11.1" fill="none" stroke="#f00" stroke-width="2.1" stroke-linejoin="round"/>
<rect x="766.69" y="416.95" width="10.35" height="11.1" fill="none" stroke="#f00" stroke-width="2.1" stroke-linejoin="round"/>
<rect x="769.26" y="415.25" width="10.35" height="11.1" fill="none" stroke="#f00" stroke-width="2.1" stroke-linejoin="round"/>
<rect x="771.77" y="413.55" width="10.35" height="11.1" fill="none" stroke="#f00" stroke-width="2.1" stroke-linejoin="round"/>
<rect x="774.23" y="411.90" width="10.35" height="11.1" fill="none" stroke="#f00" stroke-width="2.1" stroke-linejoin="round"/>
<rect x="776.65" y="410.29" width="10.35" height="11.1" fill="none" stroke="#f00" stroke-width="2.1" stroke-linejoin="round"/>
<rect x="779.02" y="408.24" width="10.35" height="11.1" fill="none" stroke="#f00" stroke-width="2.1" stroke-linejoin="round"/>
<rect x="781.35" y="406.04" width="10.35" height="11.1" fill="none" stroke="#f00" stroke-width="2.1" stroke-linejoin="round"/>
<rect x="783.63" y="403.86" width="10.35" height="11.1" fill="none" stroke="#f00" stroke-width="2.1" stroke-linejoin="round"/>
<rect x="785.88" y="401.73" width="10.35" height="11.1" fill="none" stroke="#f00" stroke-width="2.1" stroke-linejoin="round"/>
<rect x="788.08" y="399.92" width="10.35" height="11.1" fill="none" stroke="#f00" stroke-width="2.1" stroke-linejoin="round"/>
<rect x="790.31" y="397.76" width="10.35" height="11.1" fill="none" stroke="#f00" stroke-width="2.1" stroke-linejoin="round"/>
<rect x="792.53" y="394.84" width="10.35" height="11.1" fill="none" stroke="#f00" stroke-width="2.1" stroke-linejoin="round"/>
<rect x="794.72" y="391.86" width="10.35" height="11.1" fill="none" stroke="#f00" stroke-width="2.1" stroke-linejoin="round"/>
<rect x="256.76" y="447.48" width="11.2" height="11.0" fill="#0f0"/>
<rect x="345.86" y="441.93" width="11.2" height="11.0" fill="#0f0"/>
<rect x="398.61" y="432.20" width="11.2" height="11.0" fill="#0f0"/>
<rect x="436.22" y="422.77" width="11.2" height="11.0" fill="#0f0"/>
<rect x="465.46" y="419.10" width="11.2" height="11.0" fill="#0f0"/>
<rect x="489.40" y="417.50" width="11.2" height="11.0" fill="#0f0"/>
<rect x="509.66" y="417.01" width="11.2" height="11.0" fill="#0f0"/>
<rect x="527.22" y="419.89" width="11.2" height="11.0" fill="#0f0"/>
<rect x="542.73" y="419.15" width="11.2" height="11.0" fill="#0f0"/>
<rect x="556.60" y="416.10" width="11.2" height="11.0" fill="#0f0"/>
<rect x="569.16" y="412.52" width="11.2" height="11.0" fill="#0f0"/>
<rect x="580.62" y="408.74" width="11.2" height="11.0" fill="#0f0"/>
<rect x="591.17" y="404.80" width="11.2" height="11.0" fill="#0f0"/>
<rect x="600.95" y="402.26" width="11.2" height="11.0" fill="#0f0"/>
<rect x="610.04" y="399.77" width="11.2" height="11.0" fill="#0f0"/>
<rect x="618.56" y="397.00" width="11.2" height="11.0" fill="#0f0"/>
<rect x="626.56" y="394.39" width="11.2" height="11.0" fill="#0f0"/>
<rect x="634.10" y="391.94" width="11.2" height="11.0" fill="#0f0"/>
<rect x="641.23" y="389.62" width="11.2" height="11.0" fill="#0f0"/>
<rect x="648.00" y="389.04" width="11.2" height="11.0" fill="#0f0"/>
<rect x="654.44" y="388.66" width="11.2" height="11.0" fill="#0f0"/>
<rect x="660.58" y="389.01" width="11.2" height="11.0" fill="#0f0"/>
<rect x="666.45" y="389.48" width="11.2" height="11.0" fill="#0f0"/>
<rect x="672.07" y="389.92" width="11.2" height="11.0" fill="#0f0"/>
<rect x="677.46" y="390.27" width="11.2" height="11.0" fill="#0f0"/>
<rect x="682.64" y="390.46" width="11.2" height="11.0" fill="#0f0"/>
<rect x="687.62" y="390.47" width="11.2" height="11.0" fill="#0f0"/>
<rect x="692.42" y="389.94" width="11.2" height="11.0" fill="#0f0"/>
<rect x="697.06" y="389.45" width="11.2" height="11.0" fill="#0f0"/>
<rect x="701.53" y="389.08" width="11.2" height="11.0" fill="#0f0"/>
<rect x="705.86" y="388.72" width="11.2" height="11.0" fill="#0f0"/>
<rect x="710.06" y="388.38" width="11.2" height="11.0" fill="#0f0"/>
<rect x="714.12" y="388.26" width="11.2" height="11.0" fill="#0f0"/>
<rect x="718.06" y="388.20" width="11.2" height="11.0" fill="#0f0"/>
<rect x="721.89" y="394.79" width="11.2" height="11.0" fill="#0f0"/>
<rect x="725.61" y="397.50" width="11.2" height="11.0" fill="#0f0"/>
<rect x="729.23" y="397.49" width="11.2" height="11.0" fill="#0f0"/>
<rect x="732.76" y="396.00" width="11.2" height="11.0" fill="#0f0"/>
<rect x="736.19" y="395.74" width="11.2" height="11.0" fill="#0f0"/>
<rect x="739.53" y="395.49" width="11.2" height="11.0" fill="#0f0"/>
<rect x="742.79" y="394.80" width="11.2" height="11.0" fill="#0f0"/>
<rect x="745.98" y="394.46" width="11.2" height="11.0" fill="#0f0"/>
<rect x="749.09" y="394.12" width="11.2" height="11.0" fill="#0f0"/>
<rect x="752.12" y="393.80" width="11.2" height="11.0" fill="#0f0"/>
<rect x="755.09" y="393.94" width="11.2" height="11.0" fill="#0f0"/>
<rect x="758.00" y="393.88" width="11.2" height="11.0" fill="#0f0"/>
<rect x="760.84" y="393.66" width="11.2" height="11.0" fill="#0f0"/>
<rect x="763.62" y="393.44" width="11.2" height="11.0" fill="#0f0"/>
<rect x="766.35" y="393.23" width="11.2" height="11.0" fill="#0f0"/>
<rect x="769.01" y="392.77" width="11.2" height="11.0" fill="#0f0"/>
<rect x="771.63" y="392.29" width="11.2" height="11.0" fill="#0f0"/>
<rect x="774.20" y="391.50" width="11.2" height="11.0" fill="#0f0"/>
<rect x="776.71" y="389.87" width="11.2" height="11.0" fill="#0f0"/>
<rect x="779.18" y="384.33" width="11.2" height="11.0" fill="#0f0"/>
<rect x="781.61" y="381.90" width="11.2" height="11.0" fill="#0f0"/>
<rect x="783.99" y="380.90" width="11.2" height="11.0" fill="#0f0"/>
<rect x="786.33" y="380.47" width="11.2" height="11.0" fill="#0f0"/>
<rect x="788.63" y="380.05" width="11.2" height="11.0" fill="#0f0"/>
<rect x="790.89" y="379.63" width="11.2" height="11.0" fill="#0f0"/>
<rect x="793.11" y="379.22" width="11.2" height="11.0" fill="#0f0"/>
<rect x="795.29" y="378.82" width="11.2" height="11.0" fill="#0f0"/>
<rect x="797.44" y="378.44" width="11.2" height="11.0" fill="#0f0"/>
<rect x="799.56" y="378.06" width="11.2" height="11.0" fill="#0f0"/>
<circle cx="262.36" cy="394.95" r="7.55" fill="#00f"/>
<circle cx="351.46" cy="445.02" r="7.55" fill="#00f"/>
<circle cx="404.21" cy="447.90" r="7.55" fill="#00f"/>
<circle cx="441.82" cy="436.33" r="7.55" fill="#00f"/>
<circle cx="471.06" cy="426.21" r="7.55" fill="#00f"/>
<circle cx="495.00" cy="422.89" r="7.55" fill="#00f"/>
<circle cx="515.26" cy="422.29" r="7.55" fill="#00f"/>
<circle cx="532.82" cy="420.80" r="7.55" fill="#00f"/>
<circle cx="548.33" cy="420.81" r="7.55" fill="#00f"/>
<circle cx="562.20" cy="421.60" r="7.55" fill="#00f"/>
<circle cx="574.76" cy="421.18" r="7.55" fill="#00f"/>
<circle cx="586.22" cy="419.98" r="7.55" fill="#00f"/>
<circle cx="596.77" cy="417.16" r="7.55" fill="#00f"/>
<circle cx="606.55" cy="415.45" r="7.55" fill="#00f"/>
<circle cx="615.64" cy="413.81" r="7.55" fill="#00f"/>
<circle cx="624.16" cy="412.13" r="7.55" fill="#00f"/>
<circle cx="632.16" cy="410.54" r="7.55" fill="#00f"/>
<circle cx="639.70" cy="409.05" r="7.55" fill="#00f"/>
<circle cx="646.83" cy="407.63" r="7.55" fill="#00f"/>
<circle cx="653.60" cy="406.50" r="7.55" fill="#00f"/>
<circle cx="660.04" cy="405.45" r="7.55" fill="#00f"/>
<circle cx="666.18" cy="404.45" r="7.55" fill="#00f"/>
<circle cx="672.05" cy="403.49" r="7.55" fill="#00f"/>
<circle cx="677.67" cy="402.58" r="7.55" fill="#00f"/>
<circle cx="683.06" cy="401.64" r="7.55" fill="#00f"/>
<circle cx="688.24" cy="400.64" r="7.55" fill="#00f"/>
<circle cx="693.22" cy="399.68" r="7.55" fill="#00f"/>
<circle cx="698.02" cy="398.75" r="7.55" fill="#00f"/>
<circle cx="702.66" cy="398.50" r="7.55" fill="#00f"/>
<circle cx="707.13" cy="398.50" r="7.55" fill="#00f"/>
<circle cx="711.46" cy="398.26" r="7.55" fill="#00f"/>
<circle cx="715.66" cy="397.57" r="7.55" fill="#00f"/>
<circle cx="719.72" cy="396.90" r="7.55" fill="#00f"/>
<circle cx="723.66" cy="396.45" r="7.55" fill="#00f"/>
<circle cx="727.49" cy="396.25" r="7.55" fill="#00f"/>
<circle cx="731.21" cy="396.17" r="7.55" fill="#00f"/>
<circle cx="734.83" cy="396.09" r="7.55" fill="#00f"/>
<circle cx="738.36" cy="395.18" r="7.55" fill="#00f"/>
<circle cx="741.79" cy="394.10" r="7.55" fill="#00f"/>
<circle cx="745.13" cy="394.15" r="7.55" fill="#00f"/>
<circle cx="748.39" cy="394.20" r="7.55" fill="#00f"/>
<circle cx="751.58" cy="394.60" r="7.55" fill="#00f"/>
<circle cx="754.69" cy="395.00" r="7.55" fill="#00f"/>
<circle cx="757.72" cy="403.83" r="7.55" fill="#00f"/>
<circle cx="760.69" cy="407.99" r="7.55" fill="#00f"/>
<circle cx="763.60" cy="410.50" r="7.55" fill="#00f"/>
<circle cx="766.44" cy="412.53" r="7.55" fill="#00f"/>
<circle cx="769.22" cy="414.51" r="7.55" fill="#00f"/>
<circle cx="771.95" cy="416.22" r="7.55" fill="#00f"/>
<circle cx="774.61" cy="417.10" r="7.55" fill="#00f"/>
<circle cx="777.23" cy="417.50" r="7.55" fill="#00f"/>
<circle cx="779.80" cy="417.64" r="7.55" fill="#00f"/>
<circle cx="782.31" cy="417.77" r="7.55" fill="#00f"/>
<circle cx="784.78" cy="417.90" r="7.55" fill="#00f"/>
<circle cx="787.21" cy="418.02" r="7.55" fill="#00f"/>
<circle cx="789.59" cy="418.12" r="7.55" fill="#00f"/>
<circle cx="791.93" cy="418.21" r="7.55" fill="#00f"/>
<circle cx="794.23" cy="418.34" r="7.55" fill="#00f"/>
<circle cx="796.49" cy="418.75" r="7.55" fill="#00f"/>
<circle cx="798.71" cy="419.15" r="7.55" fill="#00f"/>
<circle cx="800.89" cy="419.54" r="7.55" fill="#00f"/>
<circle cx="803.04" cy="419.86" r="7.55" fill="#00f"/>
<circle cx="805.16" cy="420.15" r="7.55" fill="#00f"/>
</g>
<circle cx="638.50" cy="571.40" r="7.55" fill="#00f"/>
<rect x="633.10" y="600.00" width="11.2" height="11.0" fill="#0f0"/>
<rect x="633.53" y="633.85" width="10.35" height="11.1" fill="none" stroke="#f00" stroke-width="2.1" stroke-linejoin="round"/>
<g fill="#000">
<text font-family="'Liberation Sans', sans-serif" font-weight="normal" font-size="29" transform="translate(670.47,572.10) scale(1.392,1)" >t</text>
<path d="M685.6,561.20 H702.4 M685.6,565.90 H702.4" stroke="#000" stroke-width="1.9" fill="none"/>
<text font-family="'Liberation Sans', sans-serif" font-weight="normal" font-size="29" transform="translate(705.90,572.10) scale(0.960,1)" >5</text>
<text font-family="'Liberation Sans', sans-serif" font-weight="normal" font-size="29" transform="translate(721.64,572.10) scale(1.418,1)" >.</text>
<text font-family="'Liberation Sans', sans-serif" font-weight="normal" font-size="29" transform="translate(732.89,572.10) scale(1.055,1)" >5</text>
<text font-family="'Liberation Sans', sans-serif" font-weight="normal" font-size="29" transform="translate(670.47,605.90) scale(1.392,1)" >t</text>
<path d="M685.6,595.00 H702.4 M685.6,599.70 H702.4" stroke="#000" stroke-width="1.9" fill="none"/>
<text font-family="'Liberation Sans', sans-serif" font-weight="normal" font-size="29" transform="translate(705.94,605.90) scale(0.960,1)" >3</text>
<text font-family="'Liberation Sans', sans-serif" font-weight="normal" font-size="29" transform="translate(721.64,605.90) scale(1.418,1)" >.</text>
<text font-family="'Liberation Sans', sans-serif" font-weight="normal" font-size="29" transform="translate(732.45,605.90) scale(1.103,1)" >7</text>
<text font-family="'Liberation Sans', sans-serif" font-weight="normal" font-size="29" transform="translate(670.47,639.70) scale(1.392,1)" >t</text>
<path d="M685.6,628.80 H702.4 M685.6,633.50 H702.4" stroke="#000" stroke-width="1.9" fill="none"/>
<text font-family="'Liberation Sans', sans-serif" font-weight="normal" font-size="29" transform="translate(705.40,639.70) scale(1.040,1)" >0</text>
</g>
<g fill="#000" stroke="#fff" stroke-width="0.3">
<text font-family="'Liberation Sans', sans-serif" font-weight="bold" font-size="35.9" transform="translate(97.33,384.45) scale(1.053,1)" >0</text>
<text font-family="'Liberation Sans', sans-serif" font-weight="bold" font-size="35.9" transform="translate(66.93,317.31) scale(1.053,1)" >0</text>
<circle cx="92.3" cy="313.96" r="2.3" stroke="none"/>
<text font-family="'Liberation Sans', sans-serif" font-weight="bold" font-size="35.9" transform="translate(96.43,317.31) scale(1.098,1)" >2</text>
<text font-family="'Liberation Sans', sans-serif" font-weight="bold" font-size="35.9" transform="translate(66.93,250.17) scale(1.053,1)" >0</text>
<circle cx="92.3" cy="246.82" r="2.3" stroke="none"/>
<text font-family="'Liberation Sans', sans-serif" font-weight="bold" font-size="35.9" transform="translate(97.26,250.17) scale(0.990,1)" >4</text>
<text font-family="'Liberation Sans', sans-serif" font-weight="bold" font-size="35.9" transform="translate(66.93,183.03) scale(1.053,1)" >0</text>
<circle cx="92.3" cy="179.68" r="2.3" stroke="none"/>
<text font-family="'Liberation Sans', sans-serif" font-weight="bold" font-size="35.9" transform="translate(96.38,183.03) scale(1.095,1)" >6</text>
<text font-family="'Liberation Sans', sans-serif" font-weight="bold" font-size="35.9" transform="translate(66.93,115.89) scale(1.053,1)" >0</text>
<circle cx="92.3" cy="112.54" r="2.3" stroke="none"/>
<text font-family="'Liberation Sans', sans-serif" font-weight="bold" font-size="35.9" transform="translate(96.57,115.89) scale(1.073,1)" >8</text>
<path d="M110.50,24.50 L107.70,24.50 L103.80,27.90 L104.80,30.40 L105.90,29.40 L105.90,46.00 L103.80,46.00 L103.80,48.80 L112.60,48.80 L112.60,46.00 L110.50,46.00Z" fill="#000" stroke="#000" stroke-width="0.6" stroke-linejoin="round"/>
<text font-family="'Liberation Sans', sans-serif" font-weight="bold" font-size="35.9" transform="translate(97.33,719.25) scale(1.053,1)" >0</text>
<text font-family="'Liberation Sans', sans-serif" font-weight="bold" font-size="35.9" transform="translate(66.93,651.57) scale(1.053,1)" >0</text>
<circle cx="92.3" cy="648.22" r="2.3" stroke="none"/>
<text font-family="'Liberation Sans', sans-serif" font-weight="bold" font-size="35.9" transform="translate(96.43,651.57) scale(1.098,1)" >2</text>
<text font-family="'Liberation Sans', sans-serif" font-weight="bold" font-size="35.9" transform="translate(66.93,583.89) scale(1.053,1)" >0</text>
<circle cx="92.3" cy="580.54" r="2.3" stroke="none"/>
<text font-family="'Liberation Sans', sans-serif" font-weight="bold" font-size="35.9" transform="translate(97.26,583.89) scale(0.990,1)" >4</text>
<text font-family="'Liberation Sans', sans-serif" font-weight="bold" font-size="35.9" transform="translate(66.93,516.21) scale(1.053,1)" >0</text>
<circle cx="92.3" cy="512.86" r="2.3" stroke="none"/>
<text font-family="'Liberation Sans', sans-serif" font-weight="bold" font-size="35.9" transform="translate(96.38,516.21) scale(1.095,1)" >6</text>
<text font-family="'Liberation Sans', sans-serif" font-weight="bold" font-size="35.9" transform="translate(66.93,448.53) scale(1.053,1)" >0</text>
<circle cx="92.3" cy="445.18" r="2.3" stroke="none"/>
<text font-family="'Liberation Sans', sans-serif" font-weight="bold" font-size="35.9" transform="translate(96.57,448.53) scale(1.073,1)" >8</text>
<path d="M138.30,723.50 L135.50,723.50 L131.60,726.90 L132.60,729.40 L133.70,728.40 L133.70,745.00 L131.60,745.00 L131.60,747.80 L140.40,747.80 L140.40,745.00 L138.30,745.00Z" fill="#000" stroke="#000" stroke-width="0.6" stroke-linejoin="round"/>
<path d="M433.00,723.50 L430.20,723.50 L426.30,726.90 L427.30,729.40 L428.40,728.40 L428.40,745.00 L426.30,745.00 L426.30,747.80 L435.10,747.80 L435.10,745.00 L433.00,745.00Z" fill="#000" stroke="#000" stroke-width="0.6" stroke-linejoin="round"/>
<text font-family="'Liberation Sans', sans-serif" font-weight="bold" font-size="35.9" transform="translate(440.13,748.00) scale(1.053,1)" >0</text>
<path d="M727.60,723.50 L724.80,723.50 L720.90,726.90 L721.90,729.40 L723.00,728.40 L723.00,745.00 L720.90,745.00 L720.90,747.80 L729.70,747.80 L729.70,745.00 L727.60,745.00Z" fill="#000" stroke="#000" stroke-width="0.6" stroke-linejoin="round"/>
<text font-family="'Liberation Sans', sans-serif" font-weight="bold" font-size="35.9" transform="translate(734.62,748.00) scale(1.058,1)" >0</text>
<text font-family="'Liberation Sans', sans-serif" font-weight="bold" font-size="35.9" transform="translate(754.90,748.00) scale(1.070,1)" >0</text>
</g>
<g fill="#000" stroke="#000" stroke-width="0.8" stroke-linejoin="round">
<text font-family="'Liberation Serif', serif" font-weight="normal" font-size="34.699999999999996" transform="translate(386.82,789.95) scale(0.834,1)" stroke-width="1.3">R</text>
<text font-family="'Liberation Serif', serif" font-weight="normal" font-size="35.3" transform="translate(438.74,790.20) scale(1.018,1)" >k</text>
<text font-family="'Liberation Serif', serif" font-weight="normal" font-size="35.3" transform="translate(459.80,790.20) scale(1.083,1)" >p</text>
<text font-family="'Liberation Serif', serif" font-weight="normal" font-size="35.3" transform="translate(480.49,790.20) scale(1.042,1)" >c</text>
<text font-family="'Liberation Serif', serif" font-weight="normal" font-size="35.3" transform="translate(522.64,790.20) scale(1.015,1)" >h</text>
</g>
<g fill="none" stroke="#000" stroke-width="2.7">
<line x1="501.6" y1="796.6" x2="517.8" y2="763.9" stroke-width="2.6"/>
<path d="M434.8,764.4 H427.9 V796.2 H434.8" stroke-linejoin="round"/>
<path d="M545.1,764.4 H552.9 V796.2 H545.1" stroke-linejoin="round"/>
</g>
<g fill="#000">
<text font-family="'Liberation Sans', sans-serif" font-weight="normal" font-size="31.5" stroke="#000" stroke-width="1.0" stroke-linejoin="round" transform="translate(31.0,192.64) rotate(-90) scale(0.991,1)">a</text>
<text font-family="'Liberation Sans', sans-serif" font-weight="normal" font-size="31.5" stroke="#000" stroke-width="1.0" stroke-linejoin="round" transform="translate(31.0,234.77) rotate(-90) scale(1.166,1)">c</text>
<text font-family="'Liberation Sans', sans-serif" font-weight="normal" font-size="31.5" stroke="#000" stroke-width="1.0" stroke-linejoin="round" transform="translate(31.0,527.14) rotate(-90) scale(0.991,1)">a</text>
<text font-family="'Liberation Sans', sans-serif" font-weight="normal" font-size="31.5" stroke="#000" stroke-width="1.0" stroke-linejoin="round" transform="translate(31.0,571.11) rotate(-90) scale(1.223,1)">b</text>
</g>
<g fill="none" stroke="#000" stroke-width="3.4">
<line x1="36.7" y1="213.3" x2="4.4" y2="195.9"/>
<line x1="36.7" y1="547.7" x2="4.4" y2="530.3"/>
</g>
</svg>
</body>
</html>
